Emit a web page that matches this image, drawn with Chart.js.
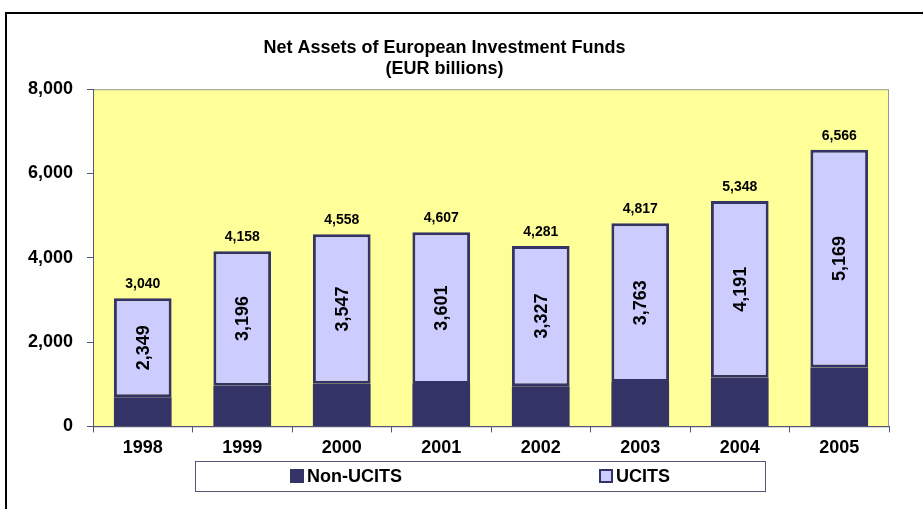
<!DOCTYPE html>
<html>
<head>
<meta charset="utf-8">
<script src="https://cdn.jsdelivr.net/npm/chart.js@4"></script>
<style>
  html, body { margin: 0; padding: 0; background: #fff; }
  #wrap { position: relative; width: 923px; height: 509px; overflow: hidden; }
  #frame { position: absolute; left: 5px; top: 12px; width: 1000px; height: 1000px; border: 2px solid #000; }
  canvas { position: absolute; left: 0; top: 0; }
</style>
</head>
<body>
<div id="wrap">
  <div id="frame"></div>
  <canvas id="chart" width="923" height="509"></canvas>
</div>
<script>
// Chart data
const years = ['1998', '1999', '2000', '2001', '2002', '2003', '2004', '2005'];
const nonUcits = [691, 962, 1011, 1006, 954, 1054, 1157, 1397];
const ucits = [2349, 3196, 3547, 3601, 3327, 3763, 4191, 5169];
const yTicks = [0, 2000, 4000, 6000, 8000];

const FONT = "'Liberation Sans', Arial, sans-serif";
const NAVY = '#333366';
const LAVENDER = '#CCCCFF';

function fmt(n) {
    return n.toLocaleString('en-US');
}

// Yellow plot background
const plotBackground = {
    id: 'plotBackground',
    beforeDraw(chart) {
        const { ctx, chartArea: a } = chart;
        ctx.save();
        ctx.fillStyle = '#FFFF99';
        ctx.fillRect(a.left, a.top, a.right - a.left, a.bottom - a.top);
        ctx.strokeStyle = '#999999';
        ctx.lineWidth = 1;
        ctx.strokeRect(a.left + 0.5, a.top + 0.5, a.right - a.left - 1, a.bottom - a.top);
        ctx.restore();
    }
};

// Value labels: totals on top, UCITS value rotated inside
const valueLabels = {
    id: 'valueLabels',
    afterDatasetsDraw(chart) {
        const ctx = chart.ctx;
        const top = chart.getDatasetMeta(1);
        ctx.save();
        ctx.fillStyle = '#000';
        top.data.forEach((bar, i) => {
            const total = nonUcits[i] + ucits[i];
            ctx.font = 'bold 14px ' + FONT;
            ctx.textAlign = 'center';
            ctx.textBaseline = 'middle';
            ctx.fillText(fmt(total), bar.x, bar.y - 14);

            const mid = (bar.y + bar.base) / 2;
            ctx.save();
            ctx.translate(bar.x, mid);
            ctx.rotate(-Math.PI / 2);
            ctx.font = 'bold 18px ' + FONT;
            ctx.textBaseline = 'middle';
            ctx.fillText(fmt(ucits[i]), 0, 1);
            ctx.restore();
        });
        ctx.restore();
    }
};

// Boxed legend under the x axis
const boxLegend = {
    id: 'boxLegend',
    afterDraw(chart) {
        const ctx = chart.ctx;
        ctx.save();
        ctx.fillStyle = '#fff';
        ctx.fillRect(195, 461, 570, 31);
        ctx.strokeStyle = '#555577';
        ctx.lineWidth = 1;
        ctx.strokeRect(195.5, 461.5, 570, 30);
        const items = [
            { x: 290, ds: chart.data.datasets[0] },
            { x: 599, ds: chart.data.datasets[1] }
        ];
        ctx.font = 'bold 18px ' + FONT;
        ctx.textBaseline = 'middle';
        ctx.textAlign = 'left';
        items.forEach(it => {
            ctx.fillStyle = it.ds.backgroundColor;
            ctx.fillRect(it.x, 469, 14, 14);
            ctx.strokeStyle = NAVY;
            ctx.lineWidth = 2;
            ctx.strokeRect(it.x + 1, 470, 12, 12);
            ctx.fillStyle = '#000';
            ctx.fillText(it.ds.label, it.x + 17, 477);
        });
        ctx.restore();
    }
};

new Chart(document.getElementById('chart'), {
    type: 'bar',
    data: {
        labels: years,
        datasets: [
            {
                label: 'Non-UCITS',
                data: nonUcits,
                backgroundColor: NAVY,
                borderColor: NAVY,
                borderWidth: 0
            },
            {
                label: 'UCITS',
                data: ucits,
                backgroundColor: LAVENDER,
                borderColor: NAVY,
                borderWidth: 3,
                borderSkipped: false
            }
        ]
    },
    options: {
        responsive: false,
        animation: false,
        layout: { padding: { left: 0, right: 34, top: 0, bottom: 45 } },
        datasets: {
            bar: { barPercentage: 0.58, categoryPercentage: 1 }
        },
        plugins: {
            legend: { display: false },
            tooltip: { enabled: false },
            title: {
                display: true,
                text: ['Net Assets of European Investment Funds', '(EUR billions)'],
                color: '#000',
                font: { family: FONT, size: 18, weight: 'bold', lineHeight: 1.2 },
                padding: { top: 37, bottom: 9 }
            }
        },
        scales: {
            x: {
                stacked: true,
                border: { display: true, color: '#555577', width: 1 },
                grid: { display: true, drawOnChartArea: false, drawTicks: true, tickLength: 6, color: '#555577' },
                ticks: { color: '#000', font: { family: FONT, size: 18, weight: 'bold' }, padding: 5 }
            },
            y: {
                stacked: true,
                min: 0,
                max: 8000,
                afterFit(scale) { scale.width = 93; },
                afterBuildTicks(scale) { scale.ticks = yTicks.map(v => ({ value: v })); },
                border: { display: true, color: '#555577', width: 1 },
                grid: { display: true, drawOnChartArea: false, drawTicks: true, tickLength: 6, color: '#555577' },
                ticks: {
                    color: '#000',
                    font: { family: FONT, size: 18, weight: 'bold' },
                    padding: 14,
                    callback: v => fmt(v)
                }
            }
        }
    },
    plugins: [plotBackground, valueLabels, boxLegend]
});
</script>
</body>
</html>
